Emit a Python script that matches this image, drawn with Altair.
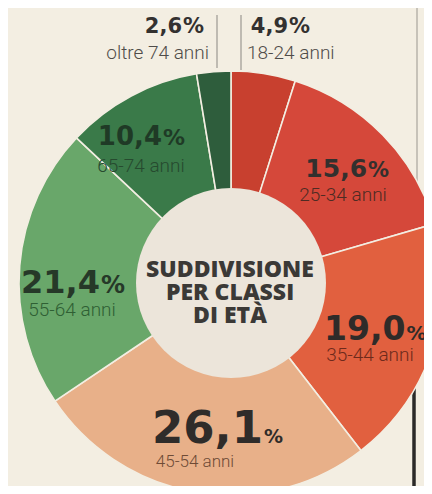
import math
import altair as alt
import pandas as pd

# ---------------- data ----------------
groups = ["18-24 anni", "25-34 anni", "35-44 anni", "45-54 anni",
          "55-64 anni", "65-74 anni", "oltre 74 anni"]
values = [4.9, 15.6, 19.0, 26.1, 21.4, 10.4, 2.6]
pct_labels = ["4,9", "15,6", "19,0", "26,1", "21,4", "10,4", "2,6"]
center_title = "SUDDIVISIONE\nPER CLASSI\nDI ETÀ"

# ---------------- style / layout ----------------
BG = "#f3eee2"
INNER = "#ece5da"
slice_colors = ["#c8402f", "#d5483a", "#e1603f", "#e8b089",
                "#69a76a", "#3a7a49", "#2e5d3c"]
num_colors = ["#333130", "#33302e", "#2f2b29", "#2f2c2a", "#263828", "#1f3a26", "#333130"]
sub_colors = ["#4f4c49", "#4e2b23", "#6e2a1b", "#6e4b36", "#2f5f34", "#264a2f", "#4f4c49"]
num_sizes = [21, 25, 33, 45, 32, 26, 21]
pct_sizes = [21, 21, 20, 19, 24, 22, 21]
sub_sizes = [19, 19, 19, 17, 19, 19, 19]
label_radius = [250, 160, 160, 160, 160, 160, 250]
num_nudge = [(18.7, -3), (21.5, 5.7), (22.3, 7.6), (57.5, 2), (28.5, 23), (6.3, 3.2), (-28.6, -0.8)]
sub_nudge = [(-22.3, 17), (-2.5, 23.7), (-13.2, 22.6), (-10.5, 21), (0.5, 40), (-14.7, 24.2), (-1.6, 19.2)]
sub_align = ["left", "center", "center", "center", "center", "center", "right"]

W, H = 416, 478
CX, CY = 223, 275
R_OUT, R_IN = 212, 95

# ---------------- tables ----------------
df = pd.DataFrame({"group": groups, "value": values, "idx": list(range(len(groups)))})

cum = 0.0
rows = []
for i, (g, v) in enumerate(zip(groups, values)):
    mid = cum + v / 2.0
    cum += v
    ang = mid / 100.0 * 2 * math.pi
    ax = CX + label_radius[i] * math.sin(ang)
    ay = CY - label_radius[i] * math.cos(ang)
    rows.append({
        "group": g,
        "num": pct_labels[i],
        "pct": "%",
        "nx": ax + num_nudge[i][0], "ny": ay + num_nudge[i][1],
        "px": ax + num_nudge[i][0] + 1, "py": ay + num_nudge[i][1],
        "sx": ax + sub_nudge[i][0], "sy": ay + sub_nudge[i][1],
        "ns": num_sizes[i], "ps": pct_sizes[i], "ss": sub_sizes[i],
        "nc": num_colors[i], "sc": sub_colors[i], "align": sub_align[i],
    })
lab = pd.DataFrame(rows)

# ---------------- marks ----------------
page_lines = pd.DataFrame({"x": [409, 406], "y": [0, 300], "y2": [300, H],
                           "c": ["#9a968f", "#2b2a28"], "w": [1, 3.5]})
lines_layer = alt.Chart(page_lines).mark_rule().encode(
    x=alt.X("x:Q", scale=None), y=alt.Y("y:Q", scale=None), y2="y2:Q",
    color=alt.Color("c:N", scale=None), strokeWidth=alt.StrokeWidth("w:Q", scale=None))

ring = alt.Chart(df).mark_arc(outerRadius=R_OUT, innerRadius=R_IN - 2,
                              stroke=BG, strokeWidth=1.6).encode(
    x=alt.value(CX), y=alt.value(CY),
    theta=alt.Theta("value:Q", stack=True, scale=alt.Scale(domain=[0, 100])),
    order=alt.Order("idx:Q"),
    color=alt.Color("group:N", scale=alt.Scale(domain=groups, range=slice_colors), legend=None),
)

inner = alt.Chart(pd.DataFrame({"k": [0]})).mark_arc(
    theta=0, theta2=2 * math.pi, outerRadius=R_IN, color=INNER
).encode(x=alt.value(CX), y=alt.value(CY))

leaders = pd.DataFrame({"x": [209, 233], "y": [7, 7], "y2": [60, 62]})
leader_layer = alt.Chart(leaders).mark_rule(color="#8a8782", strokeWidth=1).encode(
    x=alt.X("x:Q", scale=None), y=alt.Y("y:Q", scale=None), y2="y2:Q")

num_layer = alt.Chart(lab).mark_text(
    align="right", baseline="alphabetic", font="DejaVu Sans", fontWeight="bold"
).encode(
    x=alt.X("nx:Q", scale=None), y=alt.Y("ny:Q", scale=None), text="num:N",
    size=alt.Size("ns:Q", scale=None), color=alt.Color("nc:N", scale=None))

pct_layer = alt.Chart(lab).mark_text(
    align="left", baseline="alphabetic", font="DejaVu Sans", fontWeight="bold"
).encode(
    x=alt.X("px:Q", scale=None), y=alt.Y("py:Q", scale=None), text="pct:N",
    size=alt.Size("ps:Q", scale=None), color=alt.Color("nc:N", scale=None))

sub_layers = []
for a in ["left", "center", "right"]:
    sub_layers.append(
        alt.Chart(lab).transform_filter(alt.datum.align == a).mark_text(
            align=a, baseline="middle", font="Roboto", fontWeight=300
        ).encode(
            x=alt.X("sx:Q", scale=None), y=alt.Y("sy:Q", scale=None), text="group:N",
            size=alt.Size("ss:Q", scale=None), color=alt.Color("sc:N", scale=None))
    )

title_layer = alt.Chart(pd.DataFrame({"t": [center_title]})).mark_text(
    align="center", baseline="middle", font="Open Sans", fontWeight=800,
    fontSize=23, lineBreak="\n", lineHeight=23, color="#3b3936"
).encode(x=alt.value(CX - 1), y=alt.value(CY - 13), text="t:N")

chart = alt.layer(
    lines_layer, ring, inner, leader_layer, num_layer, pct_layer, *sub_layers, title_layer
).properties(
    width=W, height=H, background=BG, padding=0,
    autosize=alt.AutoSizeParams(type="none"),
).configure_view(stroke=None)

chart.save("out.html", embed_options={"renderer": "svg", "actions": False})
